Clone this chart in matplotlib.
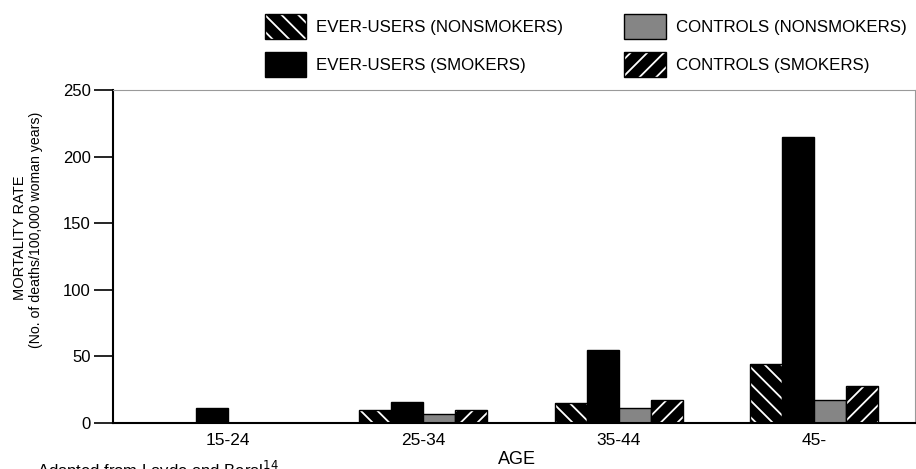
import matplotlib
matplotlib.use("Agg")
import matplotlib.pyplot as plt
from matplotlib.patches import Patch
from matplotlib.legend_handler import HandlerTuple
import numpy as np

# data
age_groups = ["15-24", "25-34", "35-44", "45-"]
ever_nonsmokers = [0, 10, 15, 44]
ever_smokers = [11, 16, 55, 215]
ctrl_nonsmokers = [0, 7, 11, 17]
ctrl_smokers = [0, 10, 17, 28]
series_labels = ["EVER-USERS (NONSMOKERS)", "EVER-USERS (SMOKERS)",
                 "CONTROLS (NONSMOKERS)", "CONTROLS (SMOKERS)"]

plt.rcParams['font.family'] = ['Liberation Sans', 'DejaVu Sans']
plt.rcParams['hatch.linewidth'] = 1.3

fig = plt.figure(figsize=(9.16, 4.69), dpi=100)
ax = fig.add_axes([113 / 916, 1 - 423 / 469, 802 / 916, 333 / 469])

x = np.arange(len(age_groups))
w = 0.164
offsets = [-1.5 * w, -0.5 * w, 0.5 * w, 1.5 * w]


def hatched_bar(pos, vals, hatch):
    ax.bar(pos, vals, w, color="black", edgecolor="white", hatch=hatch, linewidth=0)
    ax.bar(pos, vals, w, fill=False, edgecolor="black", linewidth=1)


hatched_bar(x + offsets[0], ever_nonsmokers, "\\\\")
ax.bar(x + offsets[1], ever_smokers, w, color="black", edgecolor="black", linewidth=1)
ax.bar(x + offsets[2], ctrl_nonsmokers, w, color="#858585", edgecolor="black", linewidth=1)
hatched_bar(x + offsets[3], ctrl_smokers, "//")

ax.set_xlim(-0.589, 3.517)
ax.set_ylim(0, 250)
ax.set_yticks([0, 50, 100, 150, 200, 250])
ax.set_xticks(x)
ax.set_xticklabels(age_groups, fontsize=12.5)
ax.tick_params(axis="x", length=0, pad=7)
ax.tick_params(axis="y", length=14, width=1.2, pad=2, labelsize=12)
for s in ["left", "bottom"]:
    ax.spines[s].set_linewidth(1.5)
for s in ["top", "right"]:
    ax.spines[s].set_color("#9a9a9a")
    ax.spines[s].set_linewidth(0.8)

fig.text(20 / 916, 1 - 238 / 469, "MORTALITY RATE", rotation=90,
         ha="center", va="center", fontsize=10.5)
fig.text(36 / 916, 1 - 230 / 469, "(No. of deaths/100,000 woman years)", rotation=90,
         ha="center", va="center", fontsize=10.2)
fig.text(517 / 916, 1 - 459 / 469, "AGE", ha="center", va="center", fontsize=13)
fig.text(37 / 916, 1 - 459 / 469, r"Adapted from Layde and Beral$^{14}$", ha="left", va="top",
         fontsize=12)

h_en = (Patch(facecolor="black", edgecolor="white", hatch="\\\\", linewidth=0),
        Patch(fill=False, edgecolor="black", linewidth=1))
h_es = Patch(facecolor="black", edgecolor="black", linewidth=1)
h_cn = Patch(facecolor="#858585", edgecolor="black", linewidth=1)
h_cs = (Patch(facecolor="black", edgecolor="white", hatch="//", linewidth=0),
        Patch(fill=False, edgecolor="black", linewidth=1))
fig.legend([h_en, h_es, h_cn, h_cs], series_labels, ncol=2,
           loc="upper left", bbox_to_anchor=(265 / 916, 1 - 14 / 469),
           frameon=False, fontsize=12.2, borderpad=0, borderaxespad=0,
           handlelength=2.43, handleheight=1.9, handletextpad=0.6,
           columnspacing=3.6, labelspacing=0.75,
           handler_map={tuple: HandlerTuple(ndivide=1, pad=0)})

fig.savefig("out.png", dpi=100)
